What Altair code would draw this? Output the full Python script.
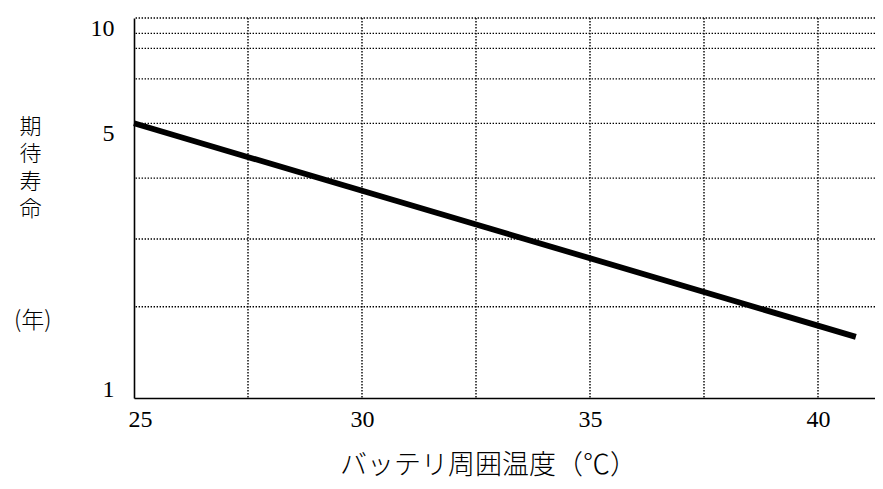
import altair as alt
import pandas as pd

# ---- data ----
temperature = [25.0, 40.83]          # バッテリ周囲温度 (℃)
life_years = [5.0, 1.40]             # 期待寿命 (年)
x_tick_values = [25, 30, 35, 40]
y_tick_values = [1, 5, 10]
x_grid_values = [27.5, 30, 32.5, 35, 37.5, 40]
y_grid_values = [1.66, 2.46, 3.55, 5, 6.66, 8.15, 9.01, 10]

line_df = pd.DataFrame({"temp": temperature, "life": life_years})
xg_df = pd.DataFrame({"temp": x_grid_values})
yg_df = pd.DataFrame({"life": y_grid_values})

x_scale = alt.Scale(domain=[25, 41.25], nice=False, zero=False)
y_scale = alt.Scale(type="pow", exponent=-0.1, domain=[1, 10], nice=False, zero=False)

grid_style = dict(color="black", strokeWidth=1.4, strokeDash=[1.4, 1.6])

x_axis = alt.Axis(
    values=x_tick_values,
    grid=False,
    ticks=False,
    domainColor="black",
    domainWidth=1.6,
    labelFont="Liberation Serif",
    labelFontSize=24,
    labelColor="black",
    labelPadding=9,
    labelFlush=True,
    labelFlushOffset=6,
    title="バッテリ周囲温度（℃）",
    titleFont="Noto Sans CJK JP",
    titleFontSize=27,
    titleFontWeight=300,
    titleColor="black",
    titleAlign="center",
    titleBaseline="alphabetic",
    titleX=354,
    titleY=75,
    zindex=1,
)

y_axis = alt.Axis(
    values=y_tick_values,
    grid=False,
    ticks=False,
    domainColor="black",
    domainWidth=1.6,
    labelFont="Liberation Serif",
    labelFontSize=24,
    labelColor="black",
    labelPadding=20,
    labelBaseline={"condition": {"test": "datum.value == 1", "value": "alphabetic"}, "value": "top"},
    labelOffset=-2,
    title=["期", "待", "寿", "命"],
    titleFont="Noto Sans CJK JP",
    titleFontSize=22,
    titleFontWeight=300,
    titleColor="black",
    titleAngle=0,
    titleAlign="center",
    titleBaseline="top",
    titleLineHeight=27.6,
    titleX=-104,
    titleY=98,
    zindex=1,
)

xgrid = alt.Chart(xg_df).mark_rule(**grid_style).encode(
    x=alt.X("temp:Q", scale=x_scale, axis=x_axis)
)
ygrid = alt.Chart(yg_df).mark_rule(**grid_style).encode(
    y=alt.Y("life:Q", scale=y_scale, axis=y_axis)
)

line = alt.Chart(line_df).mark_line(color="black", strokeWidth=5.8, strokeCap="butt").encode(
    x=alt.X("temp:Q", scale=x_scale, axis=x_axis),
    y=alt.Y("life:Q", scale=y_scale, axis=y_axis),
)

unit_title = alt.TitleParams(
    text="(年)",
    orient="top",
    anchor="start",
    frame="group",
    offset=0,
    align="left",
    baseline="top",
    dx=-120,
    dy=317,
    font="Noto Sans CJK JP",
    fontSize=23,
    fontWeight=300,
    color="black",
)

chart = (
    alt.layer(xgrid, ygrid, line)
    .properties(
        title=unit_title,
        width=741,
        height=380,
        padding={"left": 126, "top": 10, "right": 0, "bottom": 83},
        autosize=alt.AutoSizeParams(type="none"),
        background="white",
    )
    .configure_view(stroke=None)
)

chart.save("out.html", embed_options={"renderer": "svg", "actions": False})
